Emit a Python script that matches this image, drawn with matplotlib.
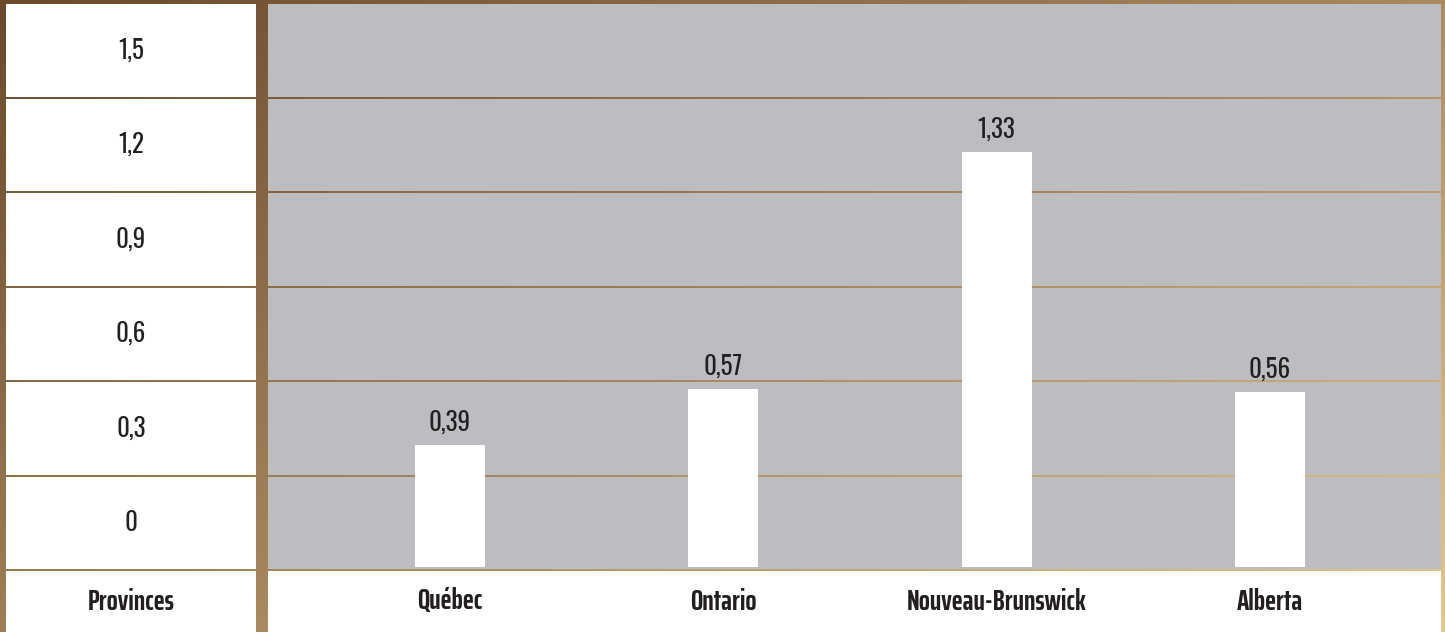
import numpy as np
import matplotlib
matplotlib.use('Agg')
import matplotlib.pyplot as plt
from matplotlib import font_manager
from matplotlib.patches import Rectangle
from matplotlib.colors import LinearSegmentedColormap

provinces = ['Québec', 'Ontario', 'Nouveau-Brunswick', 'Alberta']
values = [0.39, 0.57, 1.33, 0.56]
value_labels = ['0,39', '0,57', '1,33', '0,56']
y_labels = ['0', '0,3', '0,6', '0,9', '1,2', '1,5']
header = 'Provinces'

W, H = 1445, 632
TXT = '#231f20'
GRAY = '#bcbdc1'

fonts = font_manager.fontManager.ttflist
installed = {f.name for f in fonts}
cond = next((n for n in ['Oswald', 'Antonio', 'Sofia Sans Extra Condensed']
             if n in installed), 'DejaVu Sans')
bold_cond = next((n for n in ['Oswald', 'Antonio', 'Saira ExtraCondensed']
                  if any(f.name == n and int(f.weight) >= 600 for f in fonts)), cond)
FONT = [cond, 'DejaVu Sans']
BFONT = [bold_cond, 'DejaVu Sans']

fig = plt.figure(figsize=(W / 100, H / 100), dpi=100)

# background: brown -> gold diagonal gradient, gaps between cells show it
bg = fig.add_axes([0, 0, 1, 1])
bg.set_xlim(0, W)
bg.set_ylim(H, 0)
bg.axis('off')
gx, gy = np.meshgrid(np.linspace(0, 1, 300), np.linspace(0, 1, 150))
grad = 0.55 * gx + 0.45 * gy
cmap = LinearSegmentedColormap.from_list('gold', ['#6a4a2b', '#a3845a', '#e4c88f'])
bg.imshow(grad, cmap=cmap, extent=[0, W, H, 0], aspect='auto', zorder=0)

left_x0, left_x1 = 6, 256
plot_x0, plot_x1 = 268, 1441
top, bottom = 4, 571
pitch = (bottom - top) / len(y_labels)

for i, lab in enumerate(y_labels[::-1]):
    y0 = top + i * pitch
    bg.add_patch(Rectangle((left_x0, y0), left_x1 - left_x0, pitch - 2,
                           facecolor='white', edgecolor='none', zorder=1))
    bg.add_patch(Rectangle((plot_x0, y0), plot_x1 - plot_x0, pitch - 2,
                           facecolor=GRAY, edgecolor='none', zorder=1))
    bg.text((left_x0 + left_x1) / 2, y0 + (pitch - 2) / 2, lab, ha='center',
            va='center', fontsize=18, color=TXT, family=FONT, zorder=2)

# bottom row with category names
bg.add_patch(Rectangle((left_x0, bottom), left_x1 - left_x0, H - bottom,
                       facecolor='white', edgecolor='none', zorder=1))
bg.add_patch(Rectangle((plot_x0, bottom), plot_x1 - plot_x0, H - bottom,
                       facecolor='white', edgecolor='none', zorder=1))
bg.text((left_x0 + left_x1) / 2, (bottom + H) / 2, header, ha='center',
        va='center', fontsize=21, fontweight='bold', color=TXT, family=BFONT, zorder=2)

# bar axes over the gray area, baseline at y=567 px
base = 567
ax = fig.add_axes([plot_x0 / W, (H - base) / H, (plot_x1 - plot_x0) / W, (base - top) / H])
ax.patch.set_alpha(0)
ax.axis('off')
x = np.arange(len(provinces))
step = 273.3
ax.set_xlim((plot_x0 - 450) / step, (plot_x1 - 450) / step)
ax.set_ylim(0, (base - top) / 312)
bars = ax.bar(x, values, width=70 / step, color='white', zorder=3)
for b, lab in zip(bars, value_labels):
    ax.annotate(lab, (b.get_x() + b.get_width() / 2, b.get_height()),
                xytext=(0, 7), textcoords='offset points', ha='center',
                va='bottom', fontsize=18, color=TXT, family=FONT)

for xi, name in zip(x, provinces):
    px = 450 + xi * step
    bg.text(px, (bottom + H) / 2, name, ha='center', va='center', fontsize=21,
            fontweight='bold', color=TXT, family=BFONT, zorder=2)

fig.savefig('out.png', dpi=100)
